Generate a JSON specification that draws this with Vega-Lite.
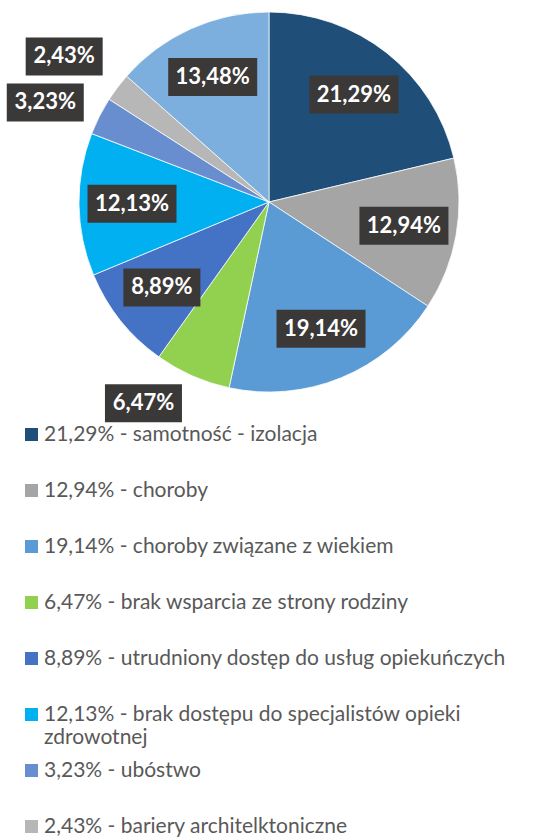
{
  "$schema": "https://vega.github.io/schema/vega-lite/v6.json",
  "width": 538,
  "height": 404,
  "padding": 0,
  "autosize": {"type": "pad"},
  "background": "white",
  "config": {"view": {"stroke": null}, "font": "Lato"},
  "data": {
    "values": [
      {"idx": 1, "value": 21.29, "pct": "21,29%", "label": "21,29% - samotność - izolacja"},
      {"idx": 2, "value": 12.94, "pct": "12,94%", "label": "12,94% - choroby"},
      {"idx": 3, "value": 19.14, "pct": "19,14%", "label": "19,14% - choroby związane z wiekiem"},
      {"idx": 4, "value": 6.47, "pct": "6,47%", "label": "6,47% - brak wsparcia ze strony rodziny"},
      {"idx": 5, "value": 8.89, "pct": "8,89%", "label": "8,89% - utrudniony dostęp do usług opiekuńczych"},
      {"idx": 6, "value": 12.13, "pct": "12,13%", "label": "12,13% - brak dostępu do specjalistów opieki zdrowotnej"},
      {"idx": 7, "value": 3.23, "pct": "3,23%", "label": "3,23% - ubóstwo"},
      {"idx": 8, "value": 2.43, "pct": "2,43%", "label": "2,43% - bariery architelktoniczne"},
      {"idx": 9, "value": 13.48, "pct": "13,48%", "label": "13,48%"}
    ]
  },
  "transform": [
    {"window": [{"op": "sum", "field": "value", "as": "cum"}], "sort": [{"field": "idx"}], "frame": [null, 0]},
    {"calculate": "2*PI*(datum.cum - datum.value/2)/100", "as": "ang"},
    {"calculate": "datum.value < 7 ? 201 * sin(datum.ang) + (sin(datum.ang) < 0 ? -1 : 1) * ((length(datum.pct) > 5 ? 44.5 : 38.5) + 6) : 137 * sin(datum.ang)", "as": "lx"},
    {"calculate": "datum.value < 7 ? 220 * cos(datum.ang) : 137 * cos(datum.ang)", "as": "ly0"},
    {"window": [{"op": "lag", "field": "ly0", "as": "prevLy"}, {"op": "lag", "field": "value", "as": "prevValue"}], "sort": [{"field": "idx"}]},
    {"calculate": "datum.value < 7 && datum.prevValue != null && datum.prevValue < 7 ? max(datum.ly0, datum.prevLy + 46) : datum.ly0", "as": "ly"}
  ],
  "layer": [
    {
      "mark": {"type": "arc", "outerRadius": 190, "stroke": "white", "strokeWidth": 0.75},
      "encoding": {
        "theta": {"field": "value", "type": "quantitative", "stack": true},
        "order": {"field": "idx", "type": "quantitative"},
        "color": {
          "field": "label",
          "type": "nominal",
          "scale": {
            "domain": [
              "21,29% - samotność - izolacja",
              "12,94% - choroby",
              "19,14% - choroby związane z wiekiem",
              "6,47% - brak wsparcia ze strony rodziny",
              "8,89% - utrudniony dostęp do usług opiekuńczych",
              "12,13% - brak dostępu do specjalistów opieki zdrowotnej",
              "3,23% - ubóstwo",
              "2,43% - bariery architelktoniczne",
              "13,48%"
            ],
            "range": ["#1F4E79", "#A5A5A5", "#5B9BD5", "#92D050", "#4472C4", "#00B0F0", "#698ED0", "#B7B7B7", "#7CAFDD"]
          },
          "legend": {
            "orient": "none",
            "legendX": 21,
            "legendY": 424,
            "direction": "vertical",
            "title": null,
            "padding": 0,
            "values": [
              "21,29% - samotność - izolacja",
              "12,94% - choroby",
              "19,14% - choroby związane z wiekiem",
              "6,47% - brak wsparcia ze strony rodziny",
              "8,89% - utrudniony dostęp do usług opiekuńczych",
              "12,13% - brak dostępu do specjalistów opieki zdrowotnej",
              "3,23% - ubóstwo",
              "2,43% - bariery architelktoniczne"
            ],
            "labelExpr": "datum.label == '12,13% - brak dostępu do specjalistów opieki zdrowotnej' ? ['12,13% - brak dostępu do specjalistów opieki', 'zdrowotnej'] : datum.label",
            "symbolType": "square",
            "symbolSize": 169,
            "symbolStrokeWidth": 0,
            "symbolOpacity": 1,
            "labelFont": "Lato",
            "labelFontSize": 21,
            "labelColor": "#595959",
            "labelLimit": 0,
            "labelOffset": 2,
            "gridAlign": "all",
            "rowPadding": 11
          }
        }
      }
    },
    {
      "mark": {"type": "point", "filled": true, "color": "#3B3838", "opacity": 1, "strokeWidth": 0},
      "encoding": {
        "x": {"field": "lx", "type": "quantitative", "scale": {"domain": [-269, 269], "nice": false, "zero": false}, "axis": null},
        "y": {"field": "ly", "type": "quantitative", "scale": {"domain": [-202, 202], "nice": false, "zero": false}, "axis": null},
        "shape": {
          "condition": {"test": "length(datum.pct) > 5", "value": "M-1,-0.427L1,-0.427L1,0.427L-1,0.427Z"},
          "value": "M-1,-0.4935L1,-0.4935L1,0.4935L-1,0.4935Z"
        },
        "size": {
          "condition": {"test": "length(datum.pct) > 5", "value": 7921},
          "value": 5929
        }
      }
    },
    {
      "mark": {"type": "text", "font": "Lato", "fontSize": 22, "fontWeight": "bold", "color": "white"},
      "encoding": {
        "x": {"field": "lx", "type": "quantitative"},
        "y": {"field": "ly", "type": "quantitative"},
        "text": {"field": "pct"}
      }
    }
  ]
}
